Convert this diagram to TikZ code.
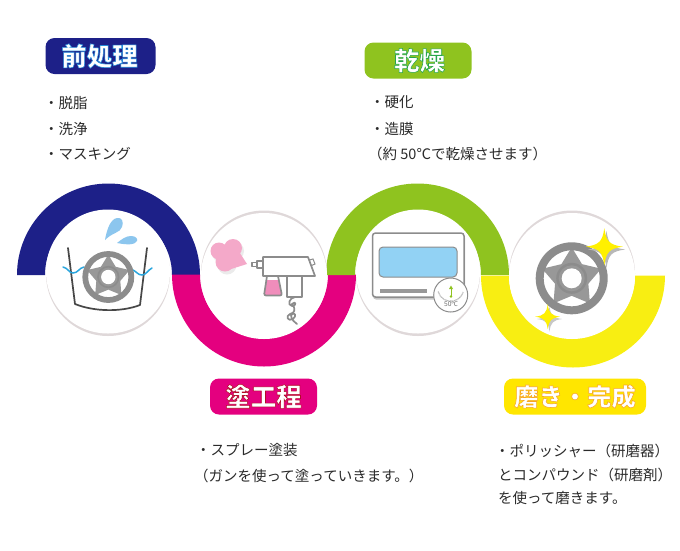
\documentclass[tikz,border=0pt]{standalone}
\usepackage{fontspec}
\setmainfont{Noto Sans CJK JP}
\newfontfamily\latinbody{Noto Sans}
\definecolor{navy}{HTML}{1D2088}
\definecolor{magenta}{HTML}{E4007F}
\definecolor{leaf}{HTML}{8FC31F}
\definecolor{lemon}{HTML}{F8EE12}
\definecolor{gold}{HTML}{FFE600}
\definecolor{sparkcol}{HTML}{FFF000}
\definecolor{rimgray}{HTML}{8C8C8C}
\definecolor{spokegray}{HTML}{989898}
\definecolor{ringgray}{HTML}{DFD8D9}
\definecolor{sky}{HTML}{92D2F4}
\definecolor{dropblue}{HTML}{8CC6EE}
\definecolor{rose}{HTML}{F4A9C9}
\definecolor{cupfill}{HTML}{F08DBB}
\definecolor{wavecol}{HTML}{2BA6DE}
\definecolor{bodytext}{HTML}{2A2A2A}
\tikzset{
  titlebox/.style={rounded corners=9pt,minimum height=36pt,inner sep=0pt,text=white,font=\fontsize{25.5}{25.5}\selectfont\bfseries},
  bodytxt/.style={anchor=west,inner sep=0pt,text=bodytext,font=\fontsize{14.5}{14.5}\selectfont},
  bucketline/.style={draw=black!72,line width=1.7pt,line cap=round,line join=round},
  waterline/.style={draw=wavecol,line width=1.5pt,line cap=round},
  gunline/.style={draw=rimgray,line width=1.7pt,line join=round,line cap=round}
}
\newcommand{\outlined}[4]{\special{pdf:code q 2 Tr 0.55 w #1 #2 #3 RG}#4\special{pdf:code Q}}
\newcommand{\wheelicon}[3]{%
  \begin{scope}[shift={(#1,#2)},scale=#3]
    \fill[spokegray] (-90:31)--(-54:17.5)--(-18:31)--(18:17.5)--(54:31)--(90:17.5)--(126:31)--(162:17.5)--(198:31)--(234:17.5)--cycle;
    \draw[rimgray,line width=#3*8pt] (0,0) circle (32);
    \fill[rimgray] (0,0) circle (15.5);
    \fill[spokegray] (0,0) circle (13);
    \fill[white] (0,0) circle (10);
  \end{scope}}
\newcommand{\sparkle}[4]{%
  \fill[#4] (#1,#2-#3) .. controls (#1+.1*#3,#2-.28*#3) and (#1+.28*#3,#2-.1*#3) .. (#1+#3,#2)
    .. controls (#1+.28*#3,#2+.1*#3) and (#1+.1*#3,#2+.28*#3) .. (#1,#2+#3)
    .. controls (#1-.1*#3,#2+.28*#3) and (#1-.28*#3,#2+.1*#3) .. (#1-#3,#2)
    .. controls (#1-.28*#3,#2-.1*#3) and (#1-.1*#3,#2-.28*#3) .. cycle;}
\begin{document}
\begin{tikzpicture}[x=1pt,y=-1pt]
\useasboundingbox (0,0) rectangle (680,550);
% bands
\fill[navy] (17,275) arc[start angle=180,end angle=0,x radius=91.5,y radius=-91.5] -- (172,275) arc[start angle=0,end angle=180,x radius=63.5,y radius=-63.5] -- cycle;
\fill[magenta] (172,274.5) arc[start angle=180,end angle=360,x radius=92,y radius=-92] -- (328,274.5) arc[start angle=360,end angle=180,x radius=64,y radius=-64] -- cycle;
\fill[leaf] (326,275) arc[start angle=180,end angle=0,x radius=91.5,y radius=-91.5] -- (481,275) arc[start angle=0,end angle=180,x radius=63,y radius=-63] -- cycle;
\fill[lemon] (481,275.5) arc[start angle=180,end angle=360,x radius=92,y radius=-92] -- (635,275.5) arc[start angle=360,end angle=180,x radius=63,y radius=-63] -- cycle;
% rings: soft crescents
\fill[ringgray] (108,274) circle (62);
\fill[white] (108,271.5) circle (62);
\fill[ringgray] (418,274) circle (62);
\fill[white] (418,271.5) circle (62);
\fill[ringgray] (264,273.5) circle (63);
\fill[white] (264,276) circle (63);
\fill[ringgray] (572,273.5) circle (63);
\fill[white] (572,276) circle (63);
% icon 1
\draw[bucketline] (68,248) -- (75,304) .. controls (95,312) and (122,312) .. (140,305) -- (147,248);
\draw[waterline] (63,267) .. controls (68,268) and (69,273) .. (73,273) .. controls (78,273) and (79,268) .. (84,267);
\draw[waterline] (133,270) .. controls (137,272) and (138,275) .. (142,275) .. controls (146,275) and (148,270) .. (152,268);
\wheelicon{108.3}{277}{.72}
\fill[dropblue] (105,240) .. controls (107,228) and (111,219) .. (117,218) .. controls (122,217) and (124,222) .. (122,227) .. controls (120,233) and (113,232) .. cycle;
\fill[dropblue] (117,243) .. controls (122,239) and (126,236) .. (131,236) .. controls (136,236) and (138,239) .. (137,241) .. controls (135,245) and (127,245) .. cycle;
% icon 2
\begin{scope}[shift={(2,3)}]
  \fill[black!8] (219,251) circle (8.5) (233,248) circle (9) (225,262) circle (9.5);
\end{scope}
\fill[rose] (219,251) circle (8.5) (233,248) circle (9) (225,262) circle (9.5) (231,258) circle (8);
\fill[rose] (238,250) -- (247,264) -- (228,270) -- cycle;
\draw[gunline,fill=white] (263,257) -- (308,257) -- (315,276) -- (263,276) -- cycle;
\draw[gunline,fill=white] (257,261) rectangle (263,268);
\draw[gunline,fill=white] (252,262.5) rectangle (257,266.5);
\draw[draw=rimgray,line width=1pt,fill=white] (309.5,260) -- (313,259) -- (315,264) -- (311.5,265.5) -- cycle;
\draw[gunline,fill=white] (287,276) rectangle (302,297);
\fill[cupfill] (266,280) -- (279,280) -- (282,295) -- (264,295) -- cycle;
\draw[gunline,rounded corners=2pt] (267,276) -- (264,295.5) -- (282,295.5) -- (278,276);
\draw[gunline] (267,276) -- (278,276);
\draw[gunline] (295,297) .. controls (289,298) and (287,305) .. (292,306) .. controls (297,306) and (296,300) .. (292,304) .. controls (296,309) and (295,313) .. (290,314) .. controls (285,316) and (288,322) .. (293,319) .. controls (297,316) and (295,311) .. (291,315) .. controls (291,320) and (295,322) .. (297,324);
% icon 3
\fill[black!22,rounded corners=3pt] (373,235) rectangle (465,299.5);
\draw[draw=rimgray,line width=1.5pt,fill=white,rounded corners=3pt] (372.5,233) rectangle (464,297);
\draw[draw=rimgray,line width=1pt,fill=sky,rounded corners=4pt] (379,247) rectangle (457,277);
\fill[spokegray] (380,289) rectangle (427,293);
\draw[draw=rimgray,line width=1pt,fill=white] (450.7,295) circle (17);
\draw[black!35,line width=1.2pt,dash pattern=on .5pt off .6pt] (450.7,295) ++(195:13) arc[start angle=195,end angle=345,x radius=13,y radius=-13];
\draw[leaf,line width=.8pt] (451,297) -- (451,288);
\fill[leaf] (451,285.5) -- (453,289) -- (449,289) -- cycle;
\fill[leaf] (451,296.5) circle (1.4);
\node (t50) at (451,304.5) [inner sep=0pt,text=black!60,font=\latinbody\fontsize{6.5}{6.5}\selectfont] {50℃};
% icon 4
\wheelicon{571.7}{278.3}{1}
\sparkle{606.5}{249.5}{18.5}{black!28}
\sparkle{604.3}{246.7}{18.5}{sparkcol}
\sparkle{549.5}{319}{12.5}{black!22}
\sparkle{547.7}{316.7}{12.5}{sparkcol}
% titles
\node[titlebox,fill=navy,minimum width=110pt,text width=110pt,align=center] (t1) at (100.5,56) {\hspace*{-2pt}\outlined{0.15}{0.55}{0.85}{前処理}};
\node[titlebox,fill=leaf,minimum width=107pt,text width=107pt,align=center] (t2) at (418,60.5) {\hspace*{3pt}\outlined{0.15}{0.65}{0.3}{乾燥}};
\node[titlebox,fill=magenta,minimum width=107pt] (t3) at (263.5,396.5) {\outlined{0.7}{0.05}{0.15}{塗工程}};
\node[titlebox,fill=gold,minimum width=142pt,font=\fontsize{24.3}{24.3}\selectfont\bfseries] (t4) at (575,396.5) {\outlined{0.97}{0.65}{0.15}{磨き・完成}};
% bodies
\node[bodytxt] (a1) at (44,102.5) {・脱脂};
\node[bodytxt] (a2) at (44,128.5) {・洗浄};
\node[bodytxt] (a3) at (44,153.5) {・マスキング};
\node[bodytxt] (b1) at (370,102.5) {・硬化};
\node[bodytxt] (b2) at (370,128.5) {・造膜};
\node[bodytxt] (b3) at (368,153.5) {（約 50℃で乾燥させます）};
\node[bodytxt] (c1) at (196,450.5) {・スプレー塗装};
\node[bodytxt] (c2) at (194,475.5) {（ガンを使って塗っていきます。）};
\node[bodytxt] (d1) at (495,450.5) {・ポリッシャー（研磨器）};
\node[bodytxt] (d2) at (498,474.5) {とコンパウンド（研磨剤）};
\node[bodytxt] (d3) at (498,497.5) {を使って磨きます。};
\end{tikzpicture}
\end{document}
